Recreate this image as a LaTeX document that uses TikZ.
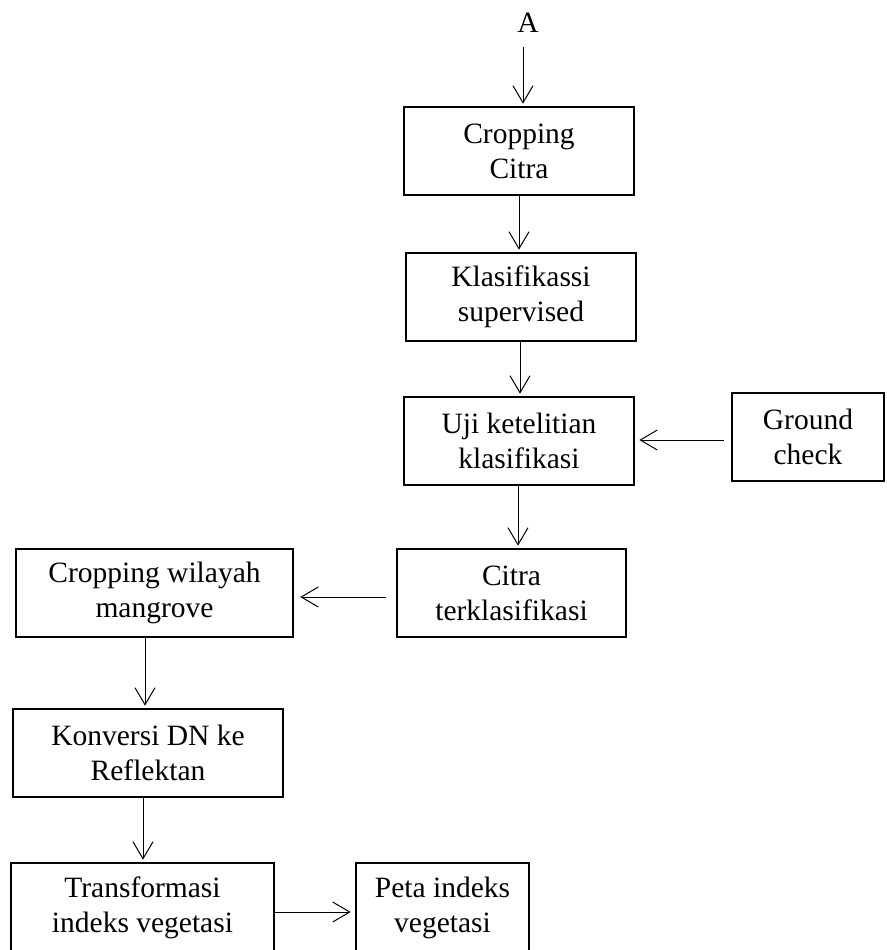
\documentclass[tikz,border=0pt]{standalone}
\usepackage{fontspec}
\setmainfont{Liberation Serif}
\usepackage{tikz}
\usetikzlibrary{positioning,arrows.meta,calc}

\begin{document}
\begin{tikzpicture}[
    x=1pt, y=-1pt,
    procbox/.style={draw, line width=2.6pt, inner sep=0pt, minimum height=88pt,
                    align=center, font=\fontsize{29.5}{35}\selectfont},
    flow/.style={line width=1pt, -{Straight Barb[length=17pt,width=20pt,line width=1pt]},
                 shorten >=2pt}
  ]
    \useasboundingbox (0,0) rectangle (886,950);

    % Start connector
    \node[inner sep=0pt, font=\fontsize{29.5}{35}\selectfont] (start) at (528,23) {A};

    % Right column
    \node[procbox, minimum width=230pt] (crop) at (519,151) {Cropping\\Citra};
    \node[procbox, minimum width=230pt] (klas) at (521,297) {Klasifikassi\\supervised};
    \node[procbox, minimum width=230pt] (uji) at (519,441) {Uji ketelitian\\klasifikasi};
    \node[procbox, minimum width=152pt] (ground) at (808,437) {Ground\\check};
    \node[procbox, minimum width=229pt] (citra) at (511.5,593) {Citra\\terklasifikasi};

    % Left column
    \node[procbox, minimum width=277pt] (cropw) at (154.5,593) {Cropping wilayah\\mangrove};
    \node[procbox, minimum width=270pt] (konv) at (148,753) {Konversi DN ke\\Reflektan};
    \node[procbox, minimum width=263pt, minimum height=90pt] (trans) at (142.5,908) {Transformasi\\indeks vegetasi};
    \node[procbox, minimum width=173pt, minimum height=90pt] (peta) at (442.5,908) {Peta indeks\\vegetasi};

    % Connectors
    \draw[flow, shorten <=14pt] ([xshift=-5pt]start.south) -- ([xshift=-5pt]start.south |- crop.north);
    \draw[flow] (crop.south) -- (klas.north -| crop.south);
    \draw[flow] ([xshift=-1pt]klas.south) -- ([xshift=-1pt]klas.south |- uji.north);
    \draw[flow] ([xshift=-1pt]uji.south) -- ([xshift=-1pt]uji.south |- citra.north);
    \draw[flow, shorten <=7pt, shorten >=4pt] ([yshift=-3pt]ground.west) -- ([yshift=-3pt]ground.west -| uji.east);
    \draw[flow, shorten <=10pt, shorten >=6pt] ([yshift=-4pt]citra.west) -- ([yshift=-4pt]citra.west -| cropw.east);
    \draw[flow] ([xshift=-9.5pt]cropw.south) -- ([xshift=-9.5pt]cropw.south |- konv.north);
    \draw[flow] ([xshift=-5pt]konv.south) -- ([xshift=-5pt]konv.south |- trans.north);
    \draw[flow, shorten >=4pt] ([yshift=-4pt]trans.east) -- ([yshift=-4pt]trans.east -| peta.west);
  \end{tikzpicture}
\end{document}
